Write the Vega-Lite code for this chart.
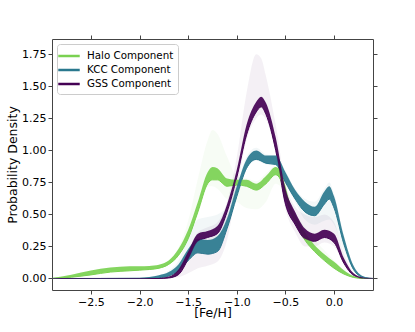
{
  "$schema": "https://vega.github.io/schema/vega-lite/v6.json",
  "width": 321,
  "height": 251,
  "autosize": {"type": "none"},
  "padding": {"left": 52, "top": 39, "right": 42, "bottom": 42},
  "config": {
    "font": "DejaVu Sans",
    "view": {"stroke": "#444", "strokeWidth": 1},
    "axis": {"grid": false, "domain": false, "tickColor": "#444", "tickSize": 4, "labelFont": "DejaVu Sans", "labelFontSize": 11, "labelColor": "#000", "titleFont": "DejaVu Sans", "titleFontSize": 12.5, "titleFontWeight": "normal", "titleColor": "#000"}
  },
  "datasets": {
    "curves": [
      {"comp": "Halo Component", "x": -2.9, "lo": 0.0, "hi": 0.004, "olo": 0.0, "ohi": 0.004},
      {"comp": "Halo Component", "x": -2.7, "lo": 0.01, "hi": 0.03, "olo": 0.01, "ohi": 0.03},
      {"comp": "Halo Component", "x": -2.5, "lo": 0.028, "hi": 0.062, "olo": 0.028, "ohi": 0.062},
      {"comp": "Halo Component", "x": -2.3, "lo": 0.05, "hi": 0.085, "olo": 0.05, "ohi": 0.085},
      {"comp": "Halo Component", "x": -2.1, "lo": 0.06, "hi": 0.095, "olo": 0.06, "ohi": 0.095},
      {"comp": "Halo Component", "x": -2.0, "lo": 0.065, "hi": 0.095, "olo": 0.065, "ohi": 0.095},
      {"comp": "Halo Component", "x": -1.9, "lo": 0.07, "hi": 0.098, "olo": 0.07, "ohi": 0.098},
      {"comp": "Halo Component", "x": -1.8, "lo": 0.08, "hi": 0.108, "olo": 0.08, "ohi": 0.108},
      {"comp": "Halo Component", "x": -1.7, "lo": 0.11, "hi": 0.14, "olo": 0.11, "ohi": 0.14},
      {"comp": "Halo Component", "x": -1.6, "lo": 0.18, "hi": 0.23, "olo": 0.18, "ohi": 0.24},
      {"comp": "Halo Component", "x": -1.5, "lo": 0.31, "hi": 0.38, "olo": 0.31, "ohi": 0.45},
      {"comp": "Halo Component", "x": -1.4, "lo": 0.52, "hi": 0.6, "olo": 0.52, "ohi": 0.78},
      {"comp": "Halo Component", "x": -1.3, "lo": 0.74, "hi": 0.83, "olo": 0.72, "ohi": 1.08},
      {"comp": "Halo Component", "x": -1.25, "lo": 0.77, "hi": 0.87, "olo": 0.72, "ohi": 1.16},
      {"comp": "Halo Component", "x": -1.2, "lo": 0.77, "hi": 0.86, "olo": 0.7, "ohi": 1.13},
      {"comp": "Halo Component", "x": -1.1, "lo": 0.72, "hi": 0.78, "olo": 0.62, "ohi": 0.95},
      {"comp": "Halo Component", "x": -1.0, "lo": 0.73, "hi": 0.77, "olo": 0.6, "ohi": 0.8},
      {"comp": "Halo Component", "x": -0.9, "lo": 0.72, "hi": 0.77, "olo": 0.55, "ohi": 0.78},
      {"comp": "Halo Component", "x": -0.8, "lo": 0.69, "hi": 0.74, "olo": 0.54, "ohi": 0.76},
      {"comp": "Halo Component", "x": -0.7, "lo": 0.74, "hi": 0.8, "olo": 0.6, "ohi": 0.82},
      {"comp": "Halo Component", "x": -0.6, "lo": 0.81, "hi": 0.87, "olo": 0.74, "ohi": 0.88},
      {"comp": "Halo Component", "x": -0.55, "lo": 0.77, "hi": 0.84, "olo": 0.72, "ohi": 0.85},
      {"comp": "Halo Component", "x": -0.5, "lo": 0.64, "hi": 0.72, "olo": 0.62, "ohi": 0.73},
      {"comp": "Halo Component", "x": -0.45, "lo": 0.52, "hi": 0.58, "olo": 0.51, "ohi": 0.6},
      {"comp": "Halo Component", "x": -0.4, "lo": 0.44, "hi": 0.5, "olo": 0.43, "ohi": 0.52},
      {"comp": "Halo Component", "x": -0.3, "lo": 0.3, "hi": 0.36, "olo": 0.29, "ohi": 0.4},
      {"comp": "Halo Component", "x": -0.2, "lo": 0.21, "hi": 0.26, "olo": 0.2, "ohi": 0.3},
      {"comp": "Halo Component", "x": -0.1, "lo": 0.14, "hi": 0.19, "olo": 0.13, "ohi": 0.22},
      {"comp": "Halo Component", "x": 0.0, "lo": 0.08, "hi": 0.13, "olo": 0.07, "ohi": 0.14},
      {"comp": "Halo Component", "x": 0.1, "lo": 0.035, "hi": 0.065, "olo": 0.03, "ohi": 0.07},
      {"comp": "Halo Component", "x": 0.2, "lo": 0.008, "hi": 0.02, "olo": 0.008, "ohi": 0.02},
      {"comp": "Halo Component", "x": 0.3, "lo": 0.0, "hi": 0.004, "olo": 0.0, "ohi": 0.004},
      {"comp": "Halo Component", "x": 0.4, "lo": 0.0, "hi": 0.001, "olo": 0.0, "ohi": 0.001},

      {"comp": "KCC Component", "x": -2.9, "lo": 0.0, "hi": 0.002, "olo": 0.0, "ohi": 0.002},
      {"comp": "KCC Component", "x": -2.0, "lo": 0.0, "hi": 0.006, "olo": 0.0, "ohi": 0.006},
      {"comp": "KCC Component", "x": -1.9, "lo": 0.002, "hi": 0.012, "olo": 0.002, "ohi": 0.012},
      {"comp": "KCC Component", "x": -1.8, "lo": 0.006, "hi": 0.025, "olo": 0.006, "ohi": 0.025},
      {"comp": "KCC Component", "x": -1.7, "lo": 0.02, "hi": 0.05, "olo": 0.02, "ohi": 0.06},
      {"comp": "KCC Component", "x": -1.6, "lo": 0.06, "hi": 0.11, "olo": 0.06, "ohi": 0.14},
      {"comp": "KCC Component", "x": -1.5, "lo": 0.14, "hi": 0.23, "olo": 0.14, "ohi": 0.33},
      {"comp": "KCC Component", "x": -1.4, "lo": 0.2, "hi": 0.31, "olo": 0.2, "ohi": 0.46},
      {"comp": "KCC Component", "x": -1.3, "lo": 0.19, "hi": 0.3, "olo": 0.19, "ohi": 0.48},
      {"comp": "KCC Component", "x": -1.2, "lo": 0.21, "hi": 0.33, "olo": 0.21, "ohi": 0.5},
      {"comp": "KCC Component", "x": -1.1, "lo": 0.39, "hi": 0.47, "olo": 0.39, "ohi": 0.56},
      {"comp": "KCC Component", "x": -1.0, "lo": 0.64, "hi": 0.72, "olo": 0.64, "ohi": 0.74},
      {"comp": "KCC Component", "x": -0.9, "lo": 0.86, "hi": 0.93, "olo": 0.86, "ohi": 0.95},
      {"comp": "KCC Component", "x": -0.8, "lo": 0.93, "hi": 1.0, "olo": 0.92, "ohi": 1.02},
      {"comp": "KCC Component", "x": -0.7, "lo": 0.9, "hi": 0.96, "olo": 0.89, "ohi": 0.97},
      {"comp": "KCC Component", "x": -0.6, "lo": 0.89, "hi": 0.96, "olo": 0.88, "ohi": 0.96},
      {"comp": "KCC Component", "x": -0.5, "lo": 0.75, "hi": 0.83, "olo": 0.74, "ohi": 0.84},
      {"comp": "KCC Component", "x": -0.4, "lo": 0.62, "hi": 0.69, "olo": 0.6, "ohi": 0.7},
      {"comp": "KCC Component", "x": -0.3, "lo": 0.52, "hi": 0.6, "olo": 0.46, "ohi": 0.62},
      {"comp": "KCC Component", "x": -0.2, "lo": 0.49, "hi": 0.56, "olo": 0.42, "ohi": 0.6},
      {"comp": "KCC Component", "x": -0.1, "lo": 0.58, "hi": 0.68, "olo": 0.45, "ohi": 0.7},
      {"comp": "KCC Component", "x": -0.05, "lo": 0.62, "hi": 0.72, "olo": 0.46, "ohi": 0.75},
      {"comp": "KCC Component", "x": 0.0, "lo": 0.55, "hi": 0.64, "olo": 0.42, "ohi": 0.66},
      {"comp": "KCC Component", "x": 0.1, "lo": 0.27, "hi": 0.33, "olo": 0.22, "ohi": 0.34},
      {"comp": "KCC Component", "x": 0.2, "lo": 0.07, "hi": 0.1, "olo": 0.06, "ohi": 0.1},
      {"comp": "KCC Component", "x": 0.3, "lo": 0.008, "hi": 0.018, "olo": 0.008, "ohi": 0.018},
      {"comp": "KCC Component", "x": 0.4, "lo": 0.0, "hi": 0.001, "olo": 0.0, "ohi": 0.001},

      {"comp": "GSS Component", "x": -2.9, "lo": 0.0, "hi": 0.001, "olo": 0.0, "ohi": 0.001},
      {"comp": "GSS Component", "x": -1.8, "lo": 0.0, "hi": 0.004, "olo": 0.0, "ohi": 0.004},
      {"comp": "GSS Component", "x": -1.7, "lo": 0.004, "hi": 0.015, "olo": 0.004, "ohi": 0.015},
      {"comp": "GSS Component", "x": -1.6, "lo": 0.03, "hi": 0.07, "olo": 0.01, "ohi": 0.07},
      {"comp": "GSS Component", "x": -1.5, "lo": 0.15, "hi": 0.21, "olo": 0.04, "ohi": 0.22},
      {"comp": "GSS Component", "x": -1.4, "lo": 0.29, "hi": 0.35, "olo": 0.08, "ohi": 0.36},
      {"comp": "GSS Component", "x": -1.3, "lo": 0.32, "hi": 0.37, "olo": 0.1, "ohi": 0.4},
      {"comp": "GSS Component", "x": -1.2, "lo": 0.35, "hi": 0.41, "olo": 0.13, "ohi": 0.44},
      {"comp": "GSS Component", "x": -1.1, "lo": 0.52, "hi": 0.58, "olo": 0.3, "ohi": 0.6},
      {"comp": "GSS Component", "x": -1.0, "lo": 0.79, "hi": 0.85, "olo": 0.7, "ohi": 0.95},
      {"comp": "GSS Component", "x": -0.9, "lo": 1.12, "hi": 1.2, "olo": 1.08, "ohi": 1.45},
      {"comp": "GSS Component", "x": -0.8, "lo": 1.3, "hi": 1.38, "olo": 1.25, "ohi": 1.75},
      {"comp": "GSS Component", "x": -0.75, "lo": 1.34, "hi": 1.42, "olo": 1.28, "ohi": 1.72},
      {"comp": "GSS Component", "x": -0.7, "lo": 1.28, "hi": 1.37, "olo": 1.24, "ohi": 1.58},
      {"comp": "GSS Component", "x": -0.6, "lo": 1.0, "hi": 1.1, "olo": 0.98, "ohi": 1.2},
      {"comp": "GSS Component", "x": -0.5, "lo": 0.58, "hi": 0.7, "olo": 0.54, "ohi": 0.74},
      {"comp": "GSS Component", "x": -0.4, "lo": 0.42, "hi": 0.52, "olo": 0.36, "ohi": 0.56},
      {"comp": "GSS Component", "x": -0.3, "lo": 0.31, "hi": 0.39, "olo": 0.25, "ohi": 0.5},
      {"comp": "GSS Component", "x": -0.2, "lo": 0.29, "hi": 0.35, "olo": 0.25, "ohi": 0.48},
      {"comp": "GSS Component", "x": -0.1, "lo": 0.32, "hi": 0.38, "olo": 0.28, "ohi": 0.5},
      {"comp": "GSS Component", "x": 0.0, "lo": 0.28, "hi": 0.35, "olo": 0.25, "ohi": 0.44},
      {"comp": "GSS Component", "x": 0.1, "lo": 0.12, "hi": 0.16, "olo": 0.11, "ohi": 0.2},
      {"comp": "GSS Component", "x": 0.2, "lo": 0.025, "hi": 0.04, "olo": 0.02, "ohi": 0.045},
      {"comp": "GSS Component", "x": 0.3, "lo": 0.002, "hi": 0.006, "olo": 0.002, "ohi": 0.006},
      {"comp": "GSS Component", "x": 0.4, "lo": 0.0, "hi": 0.0, "olo": 0.0, "ohi": 0.0}
    ]
  },
  "data": {"name": "curves"},
  "resolve": {"axis": {"x": "independent", "y": "independent"}},
  "encoding": {
    "x": {"field": "x", "type": "quantitative", "scale": {"domain": [-2.9, 0.4], "nice": false, "zero": false}}
  },
  "layer": [
    {
      "mark": {"type": "line", "strokeWidth": 1, "interpolate": "monotone"},
      "encoding": {
        "x": {"field": "x", "type": "quantitative", "title": "[Fe/H]", "axis": {"orient": "bottom", "values": [-2.5, -2.0, -1.5, -1.0, -0.5, 0.0], "format": ".1f", "labelPadding": 2, "titlePadding": -1}},
        "y": {"field": "lo", "type": "quantitative", "title": "Probability Density", "scale": {"domain": [-0.09, 1.87], "nice": false, "zero": false}, "axis": {"orient": "left", "values": [0, 0.25, 0.5, 0.75, 1.0, 1.25, 1.5, 1.75], "format": ".2f", "labelPadding": 2, "titlePadding": 2}},
        "color": {
          "field": "comp", "type": "nominal",
          "scale": {"domain": ["Halo Component", "KCC Component", "GSS Component"], "range": ["#7ad151", "#2a788e", "#440154"]},
          "sort": ["Halo Component", "KCC Component", "GSS Component"],
          "legend": {
            "title": null, "orient": "top-left", "offset": 5, "padding": 4,
            "strokeColor": "#cccccc", "fillColor": "rgba(255,255,255,0.85)", "cornerRadius": 3,
            "symbolType": "M-1.6,0H1.6", "symbolStrokeWidth": 2.5, "symbolSize": 180, "symbolOpacity": 1,
            "labelFontSize": 10.3, "labelFont": "DejaVu Sans", "labelColor": "#000", "labelOffset": 10, "rowPadding": 0
          }
        }
      }
    },
    {
      "mark": {"type": "area", "opacity": 0.06, "interpolate": "monotone"},
      "encoding": {
        "x": {"field": "x", "type": "quantitative", "axis": {"orient": "top", "values": [-2.5, -2.0, -1.5, -1.0, -0.5, 0.0], "labels": false, "title": null}},
        "y": {"field": "olo", "type": "quantitative", "axis": {"orient": "right", "values": [0, 0.25, 0.5, 0.75, 1.0, 1.25, 1.5, 1.75], "labels": false, "title": null}},
        "y2": {"field": "ohi"},
        "color": {"field": "comp", "type": "nominal", "legend": null}
      }
    },
    {
      "mark": {"type": "area", "opacity": 0.92, "interpolate": "monotone"},
      "encoding": {
        "x": {"field": "x", "type": "quantitative", "axis": null},
        "y": {"field": "lo", "type": "quantitative", "axis": null},
        "y2": {"field": "hi"},
        "color": {"field": "comp", "type": "nominal", "legend": null}
      }
    }
  ]
}
